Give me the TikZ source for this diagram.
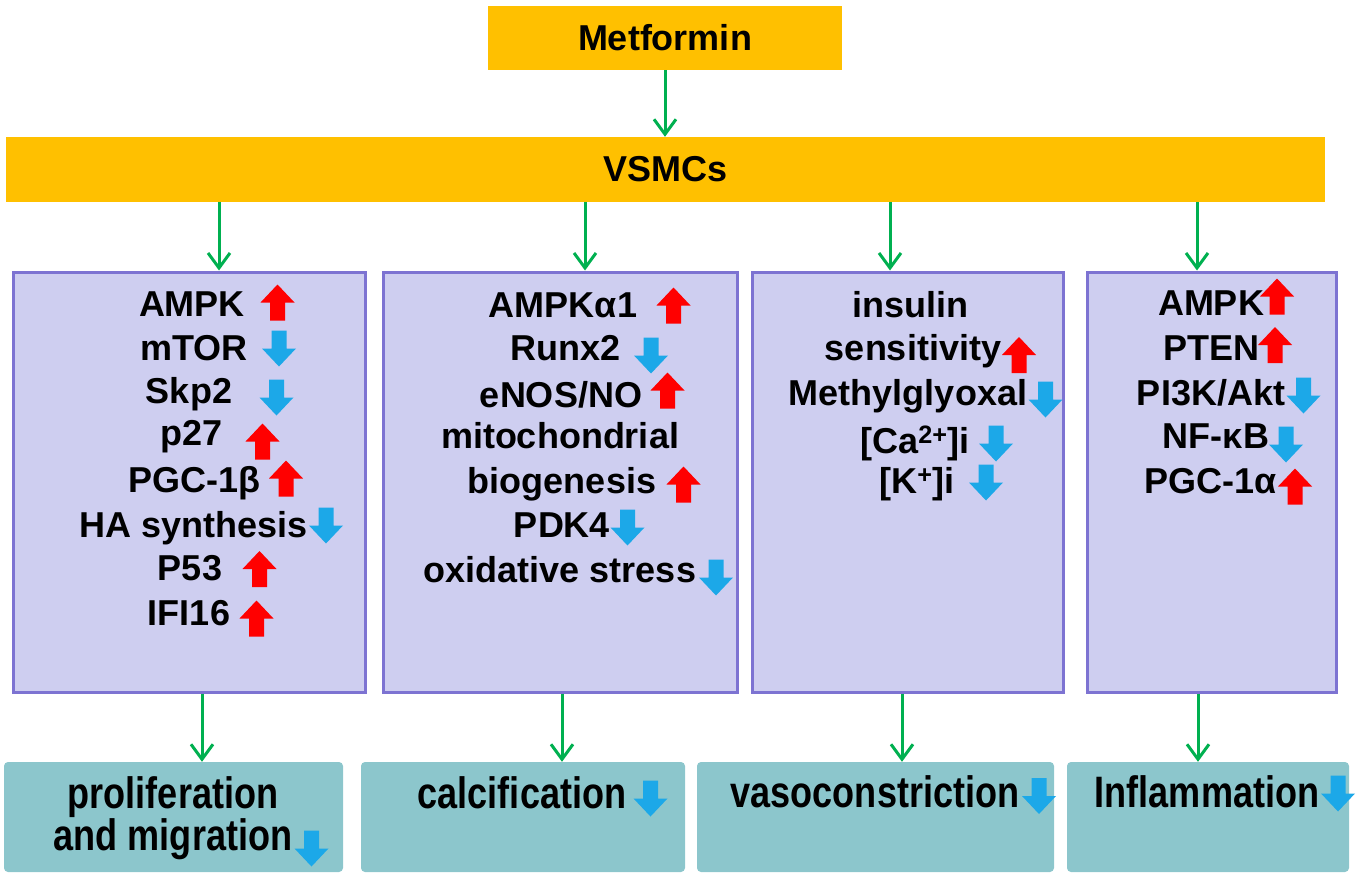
\documentclass[tikz,border=0pt]{standalone}
\usepackage{fontspec}
\setmainfont{Liberation Sans}
\newfontfamily\narrowfont[FakeStretch=0.82]{Liberation Sans}
\usetikzlibrary{arrows.meta}

\definecolor{boxorange}{HTML}{FFC000}
\definecolor{boxlilac}{RGB}{206,206,240}
\definecolor{boxrim}{RGB}{125,115,210}
\definecolor{boxteal}{RGB}{140,198,204}
\definecolor{flowgreen}{HTML}{00B050}
\definecolor{upred}{HTML}{FF0000}
\definecolor{dnblue}{RGB}{28,168,232}

\begin{document}
\begin{tikzpicture}[x=1pt,y=-1pt]
  \tikzset{
    topbox/.style={fill=boxorange, inner sep=0pt, font=\fontsize{36}{40}\selectfont\bfseries},
    midbox/.style={fill=boxlilac, draw=boxrim, line width=3pt, minimum height=420pt, inner sep=0pt},
    endbox/.style={fill=boxteal, rounded corners=4pt, minimum height=110pt, inner sep=0pt},
    entry/.style={anchor=base, inner sep=0pt, font=\fontsize{36}{40}\selectfont\bfseries},
    endtext/.style={anchor=base, inner sep=0pt, font=\narrowfont\fontsize{44}{48}\selectfont\bfseries},
    flow/.style={draw=flowgreen, line width=3pt, -{Straight Barb[length=15pt,width=22pt,line width=3pt]}},
    upar/.pic={\fill[upred] (0,-18) -- (17,0) -- (7.5,0) -- (7.5,18) -- (-7.5,18) -- (-7.5,0) -- (-17,0) -- cycle;},
    dnar/.pic={\fill[dnblue] (0,18) -- (17,0) -- (7.5,0) -- (7.5,-18) -- (-7.5,-18) -- (-7.5,0) -- (-17,0) -- cycle;}
  }
  \useasboundingbox (0,0) rectangle (1358,878);

    % top boxes
    \node[topbox, minimum width=354pt, minimum height=64pt] (metf) at (665,38) {Metformin};
    \node[topbox, minimum width=1319pt, minimum height=65pt] (vsmc) at (665.5,169.5) {VSMCs};

    % middle boxes
    \node[midbox, minimum width=352pt] (m1) at (189,482) {};
    \node[midbox, minimum width=354pt] (m2) at (560,482) {};
    \node[midbox, minimum width=311pt] (m3) at (907.5,482) {};
    \node[midbox, minimum width=249pt] (m4) at (1211.5,482) {};

    % outcome boxes
    \node[endbox, minimum width=339pt] (o1) at (173.5,817) {};
    \node[endbox, minimum width=324pt] (o2) at (523,817) {};
    \node[endbox, minimum width=357pt] (o3) at (875.5,817) {};
    \node[endbox, minimum width=282pt] (o4) at (1208,817) {};

    % box 1
    \node[entry] (ampka) at (192,316) {AMPK};
    \pic at (277.5,302.5) {upar};
    \node[entry] (mtor) at (194,360) {mTOR};
    \pic at (279,348.5) {dnar};
    \node[entry] (skp) at (189,403) {Skp2};
    \pic at (276.5,397.5) {dnar};
    \node[entry] (pzs) at (192,445) {p27};
    \pic at (262.5,441.5) {upar};
    \node[entry] (pgcb) at (194,492) {PGC-1β};
    \pic at (286,478.5) {upar};
    \node[entry] (hasy) at (194,537) {HA synthesis};
    \pic at (326,525.5) {dnar};
    \node[entry] (pft) at (190,580) {P53};
    \pic at (259.5,569) {upar};
    \node[entry] (ifi) at (189,625) {IFI16};
    \pic at (256.5,618.5) {upar};

    % box 2
    \node[entry] (ampkb) at (563,317) {AMPKα1};
    \pic at (673.5,305.5) {upar};
    \node[entry] (runx) at (566,360) {Runx2};
    \pic at (651,355.5) {dnar};
    \node[entry] (enos) at (561,407) {eNOS/NO};
    \pic at (667.5,390.5) {upar};
    \node[entry] (mito) at (560,448) {mitochondrial};
    \node[entry] (biog) at (562,493) {biogenesis};
    \pic at (683.5,484.5) {upar};
    \node[entry] (pdk) at (562,537) {PDK4};
    \pic at (627.5,527.5) {dnar};
    \node[entry] (oxst) at (560,582) {oxidative stress};
    \pic at (716,577.5) {dnar};

    % box 3
    \node[entry] (insu) at (910,317) {insulin};
    \node[entry] (sens) at (913,360) {sensitivity};
    \pic at (1019,355) {upar};
    \node[entry] (mgo) at (908,405) {Methylglyoxal};
    \pic at (1045.5,399.5) {dnar};
    \node[entry] (calc) at (915,453) {[Ca\textsuperscript{2+}]i};
    \pic at (996,443.5) {dnar};
    \node[entry] (kali) at (917,493) {[K\textsuperscript{+}]i};
    \pic at (986,482.5) {dnar};

    % box 4
    \node[entry] (ampkc) at (1211,315) {AMPK};
    \pic at (1277,296.5) {upar};
    \node[entry] (pten) at (1211,360) {PTEN};
    \pic at (1275,345) {upar};
    \node[entry] (pik) at (1211,405) {PI3K/Akt};
    \pic at (1303.5,395.5) {dnar};
    \node[entry] (nfkb) at (1216,448) {NF-κB};
    \pic at (1286,444.5) {dnar};
    \node[entry] (pgca) at (1211,493) {PGC-1α};
    \pic at (1295,486.5) {upar};

    % outcomes
    \node[endtext] (prol) at (173,808) {proliferation};
    \node[endtext] (migr) at (173,850) {and migration};
    \pic at (311.5,848.5) {dnar};
    \node[endtext] (cfy) at (522,808) {calcification};
    \pic at (650.5,798.5) {dnar};
    \node[endtext] (vaso) at (875,807) {vasoconstriction};
    \pic at (1039,796) {dnar};
    \node[endtext] (infl) at (1207,807) {Inflammation};
    \pic at (1338,793.5) {dnar};

    % green arrows
    \draw[flow] (metf.south) -- (metf.south |- vsmc.north);
    \draw[flow] ([xshift=30pt]m1.north |- vsmc.south) -- ([xshift=30pt]m1.north);
    \draw[flow] ([xshift=25pt]m2.north |- vsmc.south) -- ([xshift=25pt]m2.north);
    \draw[flow] ([xshift=-17.5pt]m3.north |- vsmc.south) -- ([xshift=-17.5pt]m3.north);
    \draw[flow] ([xshift=-14.5pt]m4.north |- vsmc.south) -- ([xshift=-14.5pt]m4.north);
    \draw[flow] ([xshift=28.5pt]o1.north |- m1.south) -- ([xshift=28.5pt]o1.north);
    \draw[flow] ([xshift=39pt]o2.north |- m2.south) -- ([xshift=39pt]o2.north);
    \draw[flow] ([xshift=26.5pt]o3.north |- m3.south) -- ([xshift=26.5pt]o3.north);
    \draw[flow] ([xshift=-10pt]o4.north |- m4.south) -- ([xshift=-10pt]o4.north);

\end{tikzpicture}
\end{document}
